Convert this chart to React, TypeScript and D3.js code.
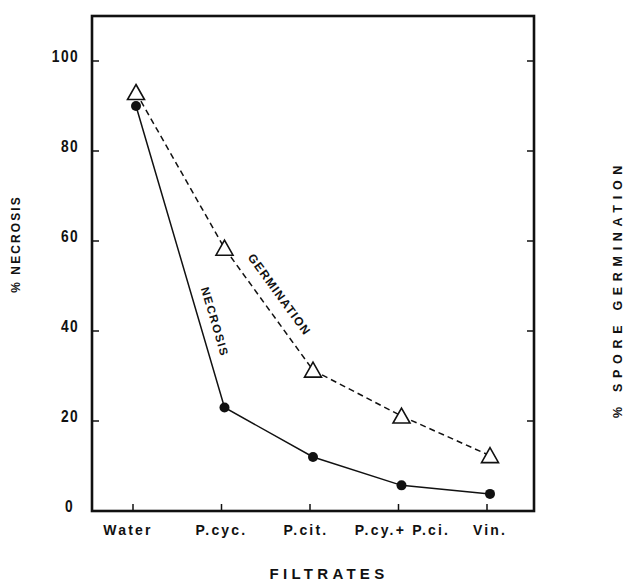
import React from "react";
import * as d3 from "d3";

const categories = ["Water", "P.cyc.", "P.cit.", "P.cy.+ P.ci.", "Vin."];
const necrosis = [90, 23, 12, 5.7, 3.8];
const germination = [93, 58.4, 31.3, 21.1, 12.3];
const yTicks = [0, 20, 40, 60, 80, 100];

const W = 626;
const H = 581;
const left = 92;
const right = 534;
const top = 16;
const bottom = 511;

export default function App() {
  const x = d3.scalePoint<string>().domain(categories).range([133, 487]);
  const y = d3.scaleLinear().domain([0, 110]).range([bottom, top]);

  const px = (i: number) => (x(categories[i]) as number) + 3;
  const nLine = d3.line<number>().x((_, i) => px(i)).y((d) => y(d));
  const gLine = d3.line<number>().x((_, i) => px(i)).y((d) => y(d));

  const font = "'Liberation Sans', Arial, Helvetica, sans-serif";

  const gAng = (Math.atan2(y(germination[2]) - y(germination[1]), px(2) - px(1)) * 180) / Math.PI;
  const nAng = (Math.atan2(y(necrosis[1]) - y(necrosis[0]), px(1) - px(0)) * 180) / Math.PI;

  const tri = (cx: number, cy: number) => {
    const w = 8.5, h = 14;
    return `M${cx},${cy - h / 2 - 1} L${cx + w},${cy + h / 2} L${cx - w},${cy + h / 2} Z`;
  };

  return (
    <svg width={W} height={H} style={{ position: "absolute", left: 0, top: 0, background: "#fff" }}>
      <rect x={0} y={0} width={W} height={H} fill="#fff" />
      <rect x={left} y={top} width={right - left} height={bottom - top} fill="none" stroke="#111" strokeWidth={2.6} />
      {yTicks.filter((t) => t > 0).map((t) => (
        <g key={"yt" + t}>
          <line x1={left} x2={left + 7} y1={y(t)} y2={y(t)} stroke="#111" strokeWidth={1.5} />
          <line x1={right} x2={right - 7} y1={y(t)} y2={y(t)} stroke="#111" strokeWidth={1.5} />
        </g>
      ))}
      {yTicks.map((t) => {
        const lx = t === 0 ? 74 : 79;
        return (
          <text
            key={"yl" + t}
            x={0}
            y={0}
            textAnchor="end"
            fontFamily={font}
            fontWeight="bold"
            fontSize={15}
            letterSpacing={1.5}
            fill="#111"
            transform={`translate(${lx},${y(t) + 1}) scale(0.92,1.05)`}
          >
            {t}
          </text>
        );
      })}
      {categories.map((c) => (
        <line key={"xt" + c} x1={x(c)} x2={x(c)} y1={bottom} y2={bottom - 7} stroke="#111" strokeWidth={1.5} />
      ))}
      {categories.map((c, i) => (
        <text
          key={"xl" + c}
          x={(x(c) as number) + [-5, 0, -4, 4, 3][i]}
          y={535}
          textAnchor="middle"
          fontFamily={font}
          fontWeight="bold"
          fontSize={14}
          letterSpacing={2.2}
          fill="#111"
        >
          {c}
        </text>
      ))}
      <path d={nLine(necrosis) as string} fill="none" stroke="#111" strokeWidth={1.5} />
      <path d={gLine(germination) as string} fill="none" stroke="#111" strokeWidth={1.5} strokeDasharray="6,4" />
      {germination.map((v, i) => (
        <path key={"g" + i} d={tri(px(i), y(v))} fill="#fff" stroke="#111" strokeWidth={1.6} />
      ))}
      {necrosis.map((v, i) => (
        <circle key={"n" + i} cx={px(i)} cy={y(v)} r={5} fill="#111" />
      ))}
      <text
        transform={`translate(276,297) rotate(${gAng})`}
        textAnchor="middle"
        fontFamily={font}
        fontWeight="bold"
        fontSize={12}
        letterSpacing={1.2}
        fill="#111"
      >
        GERMINATION
      </text>
      <text
        transform={`translate(211,323) rotate(${nAng})`}
        textAnchor="middle"
        fontFamily={font}
        fontWeight="bold"
        fontSize={11.5}
        letterSpacing={1.5}
        fill="#111"
      >
        NECROSIS
      </text>
      <text
        x={329}
        y={579}
        textAnchor="middle"
        fontFamily={font}
        fontWeight="bold"
        fontSize={15}
        letterSpacing={4.3}
        fill="#111"
      >
        FILTRATES
      </text>
      <text
        transform="translate(20,244) rotate(-90)"
        textAnchor="middle"
        fontFamily={font}
        fontWeight="bold"
        fontSize={12}
        letterSpacing={2.1}
        fill="#111"
      >
        % NECROSIS
      </text>
      <text
        transform="translate(622,289) rotate(-90)"
        textAnchor="middle"
        fontFamily={font}
        fontWeight="bold"
        fontSize={12.5}
        letterSpacing={5.7}
        fill="#111"
      >
        % SPORE GERMINATION
      </text>
    </svg>
  );
}
